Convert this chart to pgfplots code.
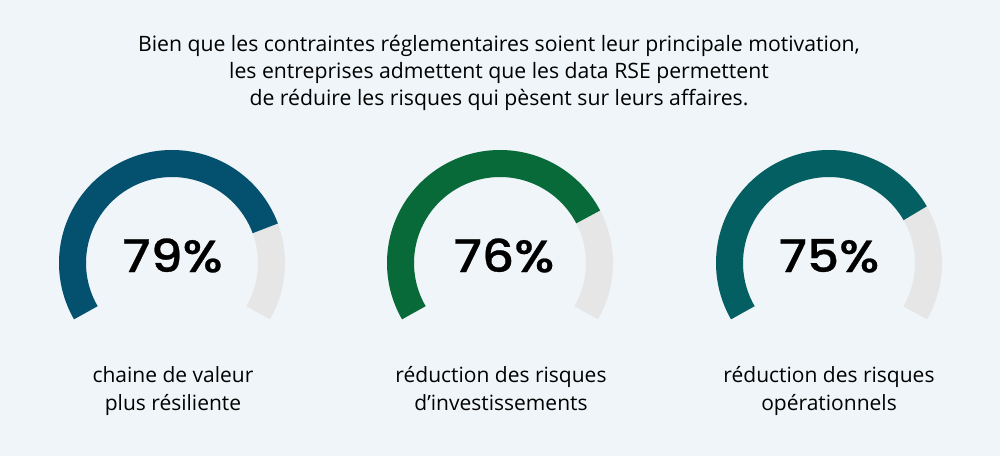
\documentclass[border=0pt]{standalone}
\usepackage{pgfplots}
\pgfplotsset{compat=1.18}
\usepackage{pgfplotstable}
\usepackage{fontspec}
\setmainfont{Open Sans}
\newfontfamily\numfont{Poppins}[UprightFont=* Medium, FakeStretch=1.12, FakeBold=0.6]
\definecolor{bgc}{HTML}{EFF5F8}
\definecolor{cblue}{HTML}{03506F}
\definecolor{cgreen}{HTML}{076A38}
\definecolor{cteal}{HTML}{035F62}
\definecolor{cgray}{HTML}{E6E6E6}
\begin{document}
\begin{tikzpicture}
\fill[bgc] (0,0) rectangle (1000pt,456pt);
\begin{axis}[at={(0,0)}, anchor=south west, width=1000pt, height=456pt, scale only axis,
  xmin=0, xmax=1000, ymin=0, ymax=456, hide axis, clip=false]
% gray tracks (full 240 degree gauge)
\addplot[domain=210:-30, samples=120, line width=27pt, color=cgray, no markers] ({172+99.5*cos(x)},{193+99.5*sin(x)});
\addplot[domain=210:-30, samples=120, line width=27pt, color=cgray, no markers] ({500+99.5*cos(x)},{193+99.5*sin(x)});
\addplot[domain=210:-30, samples=120, line width=27pt, color=cgray, no markers] ({829+99.5*cos(x)},{193+99.5*sin(x)});
% value arcs: 79%, 76%, 75%
\addplot[domain=210:{210-2.4*79}, samples=120, line width=27pt, color=cblue, no markers] ({172+99.5*cos(x)},{193+99.5*sin(x)});
\addplot[domain=210:{210-2.4*76}, samples=120, line width=27pt, color=cgreen, no markers] ({500+99.5*cos(x)},{193+99.5*sin(x)});
\addplot[domain=210:{210-2.4*75}, samples=120, line width=27pt, color=cteal, no markers] ({829+99.5*cos(x)},{193+99.5*sin(x)});
% numbers
\node[anchor=base, font=\numfont\fontsize{45}{45}\selectfont] at (axis cs:172.5,184) {79\%};
\node[anchor=base, font=\numfont\fontsize{45}{45}\selectfont] at (axis cs:504,184) {76\%};
\node[anchor=base, font=\numfont\fontsize{45}{45}\selectfont] at (axis cs:829,184) {75\%};
% title
\node[anchor=base, font=\fontsize{21.2}{27}\selectfont] at (axis cs:499,404) {Bien que les contraintes réglementaires soient leur principale motivation,};
\node[anchor=base, font=\fontsize{21.2}{27}\selectfont] at (axis cs:499,377) {les entreprises admettent que les data RSE permettent};
\node[anchor=base, font=\fontsize{21.2}{27}\selectfont] at (axis cs:499,350) {de réduire les risques qui pèsent sur leurs affaires.};
% labels
\node[anchor=base, font=\fontsize{21}{27}\selectfont] at (axis cs:173,74) {chaine de valeur};
\node[anchor=base, font=\fontsize{21}{27}\selectfont] at (axis cs:173,46) {plus résiliente};
\node[anchor=base, font=\fontsize{21}{27}\selectfont] at (axis cs:501,74) {réduction des risques};
\node[anchor=base, font=\fontsize{21}{27}\selectfont] at (axis cs:501,46) {d’investissements};
\node[anchor=base, font=\fontsize{21}{27}\selectfont] at (axis cs:829,74) {réduction des risques};
\node[anchor=base, font=\fontsize{21}{27}\selectfont] at (axis cs:829,46) {opérationnels};
\end{axis}
\end{tikzpicture}
\end{document}
